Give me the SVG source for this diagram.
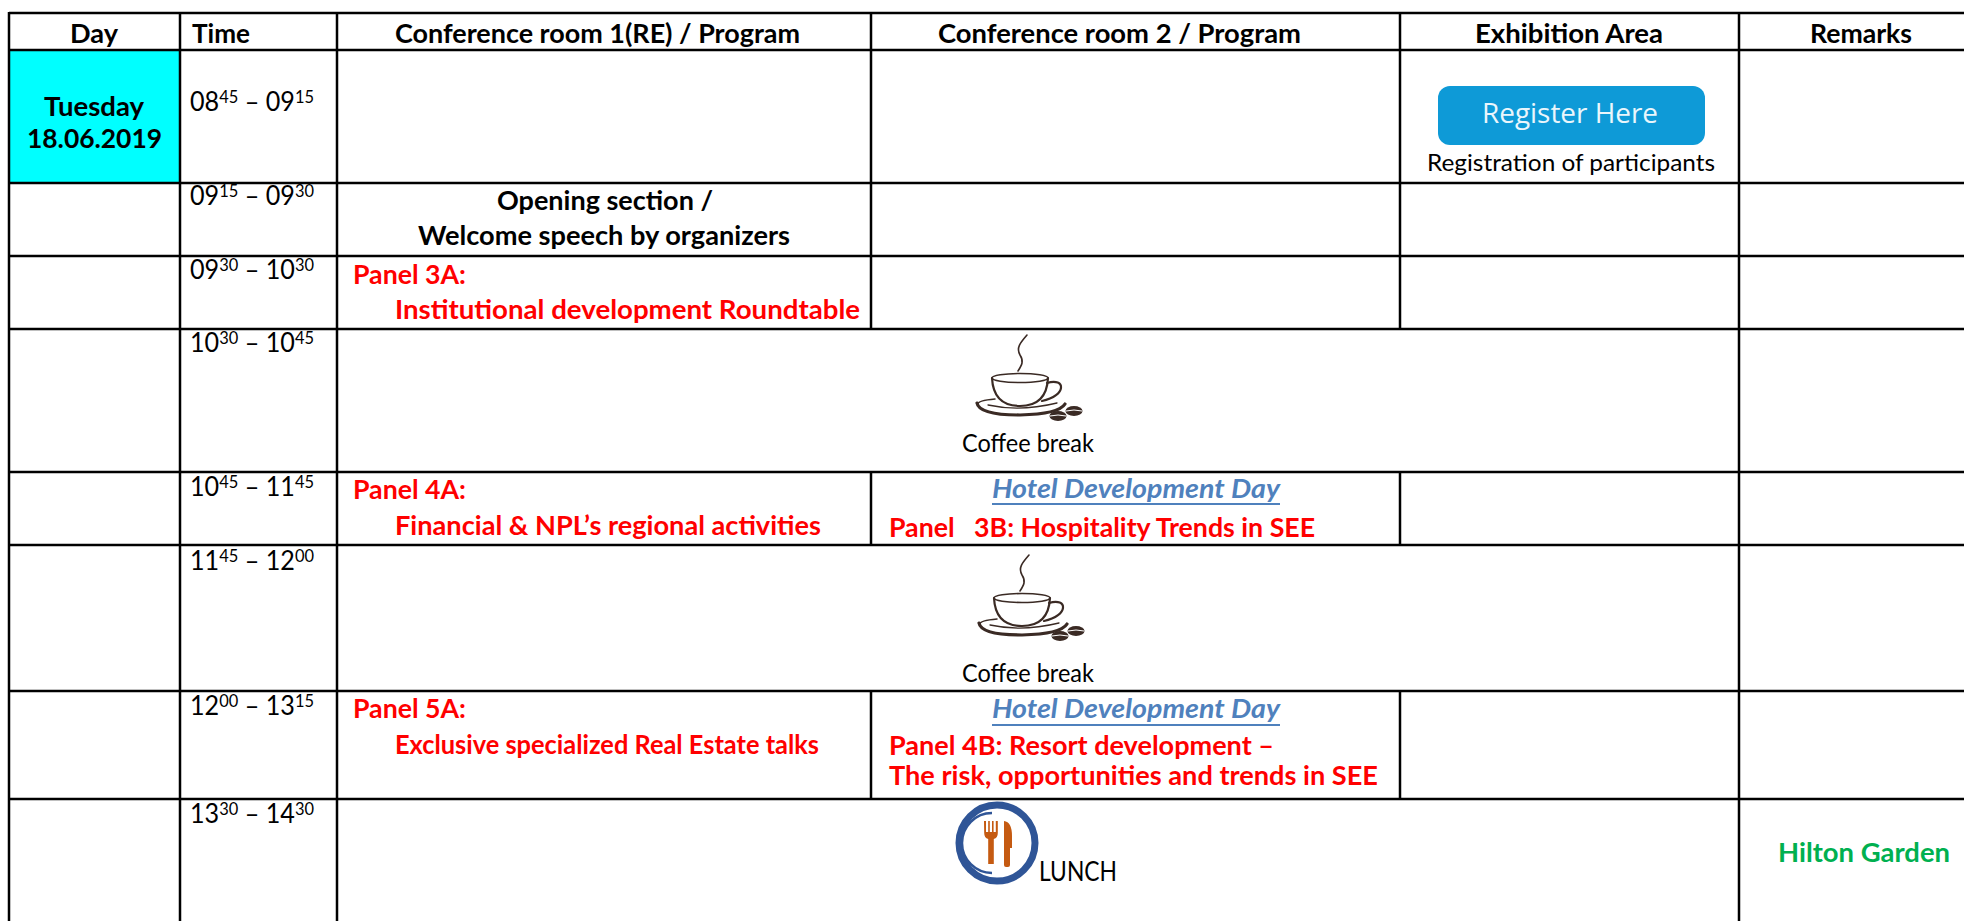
<svg xmlns="http://www.w3.org/2000/svg" width="1964" height="921" viewBox="0 0 1964 921">
<style>
text{font-family:Lato,"Liberation Sans",sans-serif;font-size:27px;fill:#000}
.b{font-weight:700}
.red{fill:#FF0000;font-weight:700}
.blue{fill:#4F81BD;font-weight:700;font-style:italic}
.green{fill:#00B050;font-weight:700}
.tm{font-size:26px}
.sup{font-size:17px}
.grid line{stroke:#000;stroke-width:2.5}
.cof{fill:none;stroke:#3A2A24;stroke-linecap:round}
</style>
<defs>
<g id="coffee">
<path class="cof" stroke-width="1.6" d="M1027,335 C1020,343 1016,348 1020,355 C1024,361 1022,365 1018,371"/>
<ellipse class="cof" stroke-width="1.6" cx="1020" cy="378" rx="28" ry="4.5"/>
<path class="cof" stroke-width="2.2" d="M992,378 C993,398 1004,406 1020,406 C1036,406 1047,398 1048,378"/>
<path class="cof" stroke-width="2.2" d="M1047,383 C1066,377 1067,396 1042,401"/>
<path class="cof" stroke-width="1.5" d="M995,399 C984,400 978,402 978,404"/>
<path class="cof" stroke-width="3.2" d="M977,403 Q979,415 1020,415 Q1059,414 1065,404"/>
<path class="cof" stroke-width="1.3" d="M988,405 Q1020,412 1057,403"/>
<ellipse cx="1058" cy="416" rx="8.5" ry="5" fill="#3A2A24"/>
<ellipse cx="1074" cy="411" rx="8.5" ry="5" fill="#3A2A24"/>
<path d="M1050,416 Q1058,414 1066,416 M1066,411 Q1074,409 1082,411" stroke="#fff" stroke-width="1" fill="none"/>
</g>
</defs>

<rect width="1964" height="921" fill="#fff"/>

<g id="day-cell">
<rect x="9" y="50" width="171" height="133" fill="#00FFFF"/>
</g>

<g id="grid" class="grid">
<line x1="9" y1="13" x2="1964" y2="13"/>
<line x1="9" y1="50" x2="1964" y2="50"/>
<line x1="9" y1="183" x2="1964" y2="183"/>
<line x1="9" y1="256" x2="1964" y2="256"/>
<line x1="9" y1="329" x2="1964" y2="329"/>
<line x1="9" y1="472" x2="1964" y2="472"/>
<line x1="9" y1="545" x2="1964" y2="545"/>
<line x1="9" y1="691" x2="1964" y2="691"/>
<line x1="9" y1="799" x2="1964" y2="799"/>
<line x1="9" y1="12" x2="9" y2="921"/>
<line x1="180" y1="12" x2="180" y2="921"/>
<line x1="337" y1="12" x2="337" y2="921"/>
<line x1="1739" y1="12" x2="1739" y2="921"/>
<line x1="871" y1="12" x2="871" y2="329"/>
<line x1="871" y1="472" x2="871" y2="545"/>
<line x1="871" y1="691" x2="871" y2="799"/>
<line x1="1400" y1="12" x2="1400" y2="329"/>
<line x1="1400" y1="472" x2="1400" y2="545"/>
<line x1="1400" y1="691" x2="1400" y2="799"/>
</g>

<g id="header">
<text class="b" x="70" y="43" textLength="48" lengthAdjust="spacingAndGlyphs">Day</text>
<text class="b" x="192" y="43" textLength="58" lengthAdjust="spacingAndGlyphs">Time</text>
<text class="b" x="395" y="43" textLength="405" lengthAdjust="spacingAndGlyphs">Conference room 1(RE) / Program</text>
<text class="b" x="938" y="43" textLength="363" lengthAdjust="spacingAndGlyphs">Conference room 2 / Program</text>
<text class="b" x="1475" y="43" textLength="188" lengthAdjust="spacingAndGlyphs">Exhibition Area</text>
<text class="b" x="1810" y="43" textLength="102" lengthAdjust="spacingAndGlyphs">Remarks</text>
</g>

<g id="day">
<text class="b" x="44" y="116" textLength="100" lengthAdjust="spacingAndGlyphs">Tuesday</text>
<text class="b" x="27" y="148" textLength="135" lengthAdjust="spacingAndGlyphs">18.06.2019</text>
</g>

<g id="times">
<text class="tm" x="190" y="111" textLength="124" lengthAdjust="spacingAndGlyphs">08<tspan class="sup" dy="-8">45</tspan><tspan dy="8"> – 09</tspan><tspan class="sup" dy="-8">15</tspan></text>
<text class="tm" x="190" y="205" textLength="124" lengthAdjust="spacingAndGlyphs">09<tspan class="sup" dy="-8">15</tspan><tspan dy="8"> – 09</tspan><tspan class="sup" dy="-8">30</tspan></text>
<text class="tm" x="190" y="279" textLength="124" lengthAdjust="spacingAndGlyphs">09<tspan class="sup" dy="-8">30</tspan><tspan dy="8"> – 10</tspan><tspan class="sup" dy="-8">30</tspan></text>
<text class="tm" x="190" y="352" textLength="124" lengthAdjust="spacingAndGlyphs">10<tspan class="sup" dy="-8">30</tspan><tspan dy="8"> – 10</tspan><tspan class="sup" dy="-8">45</tspan></text>
<text class="tm" x="190" y="496" textLength="124" lengthAdjust="spacingAndGlyphs">10<tspan class="sup" dy="-8">45</tspan><tspan dy="8"> – 11</tspan><tspan class="sup" dy="-8">45</tspan></text>
<text class="tm" x="190" y="570" textLength="124" lengthAdjust="spacingAndGlyphs">11<tspan class="sup" dy="-8">45</tspan><tspan dy="8"> – 12</tspan><tspan class="sup" dy="-8">00</tspan></text>
<text class="tm" x="190" y="715" textLength="124" lengthAdjust="spacingAndGlyphs">12<tspan class="sup" dy="-8">00</tspan><tspan dy="8"> – 13</tspan><tspan class="sup" dy="-8">15</tspan></text>
<text class="tm" x="190" y="823" textLength="124" lengthAdjust="spacingAndGlyphs">13<tspan class="sup" dy="-8">30</tspan><tspan dy="8"> – 14</tspan><tspan class="sup" dy="-8">30</tspan></text>
</g>

<g id="register">
<rect x="1438" y="86" width="267" height="59" rx="12" fill="#0E9AD7"/>
<text x="1482" y="123" style="font-family:'Open Sans',sans-serif;font-size:28px;fill:#EAF6FC" textLength="176" lengthAdjust="spacingAndGlyphs">Register Here</text>
<text x="1427" y="171" style="font-size:24px" textLength="288" lengthAdjust="spacingAndGlyphs">Registration of participants</text>
</g>

<g id="opening">
<text class="b" x="497" y="210" textLength="216" lengthAdjust="spacingAndGlyphs">Opening section /</text>
<text class="b" x="418" y="245" textLength="372" lengthAdjust="spacingAndGlyphs">Welcome speech by organizers</text>
</g>

<g id="panel-3a">
<text class="red" x="353" y="284" textLength="113" lengthAdjust="spacingAndGlyphs">Panel 3A:</text>
<text class="red" x="395" y="319" textLength="465" lengthAdjust="spacingAndGlyphs">Institutional development Roundtable</text>
</g>

<g id="coffee-1">
<use href="#coffee"/>
<text x="962" y="452" style="font-size:25px" textLength="132" lengthAdjust="spacingAndGlyphs">Coffee break</text>
</g>

<g id="panel-4a">
<text class="red" x="353" y="499" textLength="113" lengthAdjust="spacingAndGlyphs">Panel 4A:</text>
<text class="red" x="395" y="535" textLength="426" lengthAdjust="spacingAndGlyphs">Financial &amp; NPL’s regional activities</text>
</g>

<g id="panel-3b">
<text class="blue" x="992" y="498" textLength="288" lengthAdjust="spacingAndGlyphs">Hotel Development Day</text>
<line x1="992" y1="504" x2="1280" y2="504" stroke="#4F81BD" stroke-width="2"/>
<text class="red" x="889" y="537" textLength="426" lengthAdjust="spacingAndGlyphs" xml:space="preserve">Panel   3B: Hospitality Trends in SEE</text>
</g>

<g id="coffee-2">
<use href="#coffee" transform="translate(2,220)"/>
<text x="962" y="682" style="font-size:25px" textLength="132" lengthAdjust="spacingAndGlyphs">Coffee break</text>
</g>

<g id="panel-5a">
<text class="red" x="353" y="718" textLength="113" lengthAdjust="spacingAndGlyphs">Panel 5A:</text>
<text class="red" x="395" y="754" textLength="424" lengthAdjust="spacingAndGlyphs">Exclusive specialized Real Estate talks</text>
</g>

<g id="panel-4b">
<text class="blue" x="992" y="718" textLength="288" lengthAdjust="spacingAndGlyphs">Hotel Development Day</text>
<line x1="992" y1="725" x2="1280" y2="725" stroke="#4F81BD" stroke-width="2"/>
<text class="red" x="889" y="755" textLength="385" lengthAdjust="spacingAndGlyphs">Panel 4B: Resort development –</text>
<text class="red" x="889" y="785" textLength="489" lengthAdjust="spacingAndGlyphs">The risk, opportunities and trends in SEE</text>
</g>

<g id="lunch">
<circle cx="997" cy="843" r="38" fill="#fff" stroke="#2F5597" stroke-width="7"/>
<path d="M992,813 A30,30 0 0 0 992,873" fill="none" stroke="#2F5597" stroke-width="2.5"/>
<path d="M984,821 h2 v11 h2.2 v-11 h1.6 v11 h2.2 v-11 h1.6 v11 h2.2 v-11 h2 v12 q0,5 -4,6 v25 h-5.6 v-25 q-4,-1 -4,-6 z" fill="#C55A11"/>
<path d="M1004,821 q8,1 8,15 v12 h-2 v17 q0,2 -2,2 h-2 q-2,0 -2,-2 z" fill="#C55A11"/>
<text x="1039" y="881" style="font-size:27px" textLength="78" lengthAdjust="spacingAndGlyphs">LUNCH</text>
</g>

<g id="remarks-lunch">
<text class="green" x="1778" y="862" textLength="172" lengthAdjust="spacingAndGlyphs">Hilton Garden</text>
</g>
</svg>
